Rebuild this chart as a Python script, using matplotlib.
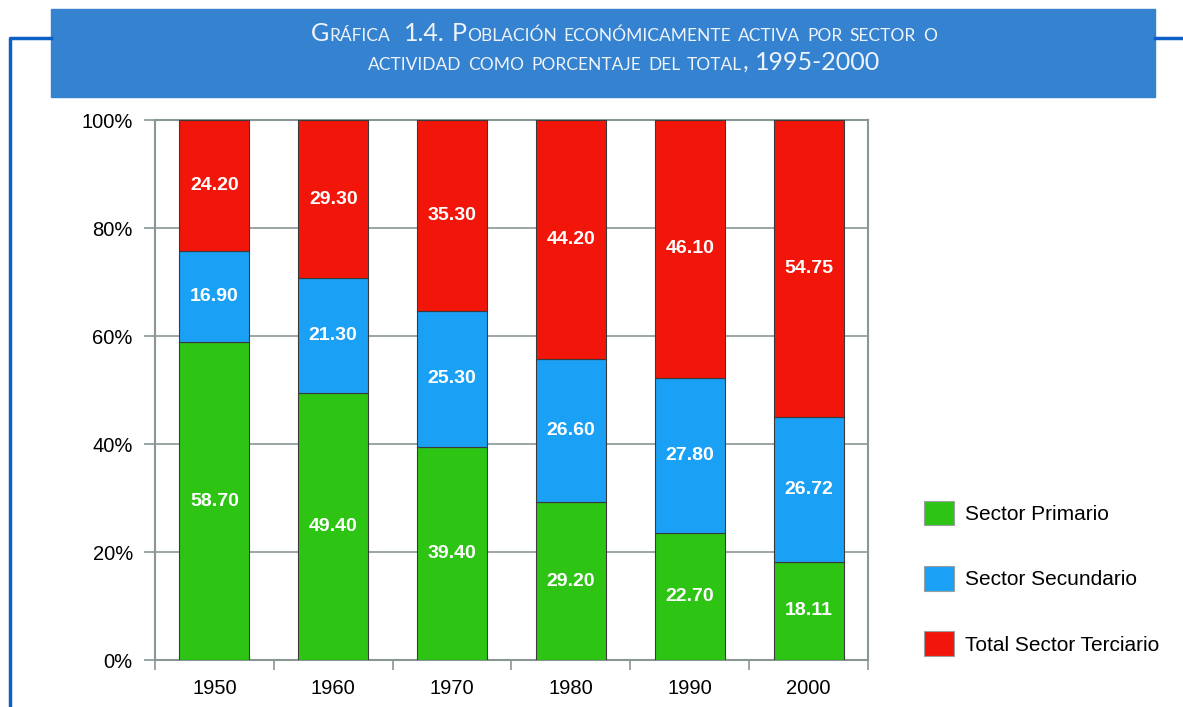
import matplotlib.pyplot as plt
from matplotlib.patches import Rectangle
from matplotlib.lines import Line2D
import numpy as np

years = ['1950', '1960', '1970', '1980', '1990', '2000']
primario = [58.70, 49.40, 39.40, 29.20, 22.70, 18.11]
secundario = [16.90, 21.30, 25.30, 26.60, 27.80, 26.72]
terciario = [24.20, 29.30, 35.30, 44.20, 46.10, 54.75]
series_names = ['Sector Primario', 'Sector Secundario', 'Total Sector Terciario']
ytick_labels = ['0%', '20%', '40%', '60%', '80%', '100%']
title_lines = ['Gráfica  1.4. Población económicamente activa por sector o',
               'actividad como porcentaje del total, 1995-2000']

colors = ['#2ec414', '#1aa0f5', '#f2160a']
grid_col = '#8a9696'
narrow = ['Liberation Sans', 'DejaVu Sans']

W, H = 1183, 707
fig = plt.figure(figsize=(W / 100, H / 100), dpi=100)

# banner and frame lines
fig.patches.append(Rectangle((51 / W, 1 - 97 / H), (1155 - 51) / W, 88 / H,
                             transform=fig.transFigure, color='#3582d0', zorder=0))
frame_col = '#0b5fc6'
fig.lines.append(Line2D([9.5 / W, 9.5 / W, 51 / W], [0, 1 - 37.5 / H, 1 - 37.5 / H],
                        transform=fig.transFigure, color=frame_col, lw=2.5))
fig.lines.append(Line2D([1155 / W, 1], [1 - 37.5 / H, 1 - 37.5 / H],
                        transform=fig.transFigure, color=frame_col, lw=2.5))

# small caps title
renderer = fig.canvas.get_renderer()
def smallcaps(line, ybase, xc, big=18, small=12.5, gap=7):
    items = []
    for word in line.split(' '):
        if word == '':
            items.append(None)
            continue
        runs = []
        for ch in word:
            sz = small if ch.islower() else big
            if runs and runs[-1][1] == sz:
                runs[-1][0] += ch.upper()
            else:
                runs.append([ch.upper(), sz])
        items.append(runs)
    texts = []
    x = 0
    for it in items:
        if it is None:
            x += gap
            continue
        for s, sz in it:
            t = fig.text(0, 1 - ybase / H, s, fontsize=sz, color='#eef4fb',
                         family='Lato', va='baseline', ha='left')
            w = t.get_window_extent(renderer).width
            texts.append((t, x))
            x += w
        x += gap
    total = x - gap
    x0 = xc - total / 2
    for t, off in texts:
        t.set_x((x0 + off) / W)

smallcaps(title_lines[0], 41, 624)
smallcaps(title_lines[1], 70, 624)

ax = fig.add_axes([155 / W, 1 - 660 / H, (868 - 155) / W, 540 / H])
data = np.array([primario, secundario, terciario])
pct = data / data.sum(axis=0) * 100
x = np.arange(len(years))
bottom = np.zeros(len(years))
for i in range(3):
    ax.bar(x, pct[i], 0.59, bottom=bottom, color=colors[i], edgecolor='#3a3a3a',
           linewidth=0.8, label=series_names[i], zorder=3)
    for j in range(len(years)):
        ax.text(x[j], bottom[j] + pct[i][j] / 2, '%.2f' % data[i][j], ha='center', va='center',
                color='white', fontsize=14, fontweight='bold', family=narrow, zorder=4)
    bottom += pct[i]

ax.set_xlim(-0.5, len(years) - 0.5)
ax.set_ylim(0, 100)
ax.set_yticks(np.arange(0, 101, 20))
ax.set_yticklabels(ytick_labels, fontsize=14.5, family=narrow)
ax.set_xticks(x)
ax.set_xticklabels(years, fontsize=14.5, family=narrow)
ax.set_xticks(np.arange(-0.5, len(years)), minor=True)
ax.tick_params(axis='x', which='major', length=0, pad=14)
ax.tick_params(axis='x', which='minor', length=7, color=grid_col, width=1.2)
ax.tick_params(axis='y', length=8, color=grid_col, width=1.2, pad=8)
ax.yaxis.grid(True, color=grid_col, lw=1.2, zorder=0)
for sp in ax.spines.values():
    sp.set_color(grid_col)
    sp.set_linewidth(1.5)

leg = fig.legend(loc='upper left', bbox_to_anchor=(905 / W, 1 - 482 / H), frameon=False,
                 prop={'family': narrow, 'size': 15}, handlelength=1.45, handleheight=1.45,
                 labelspacing=1.95, handletextpad=0.55)
for h in leg.legend_handles:
    h.set_edgecolor('#9aa0a0')
    h.set_linewidth(0.8)

fig.savefig('out.png', dpi=100)
